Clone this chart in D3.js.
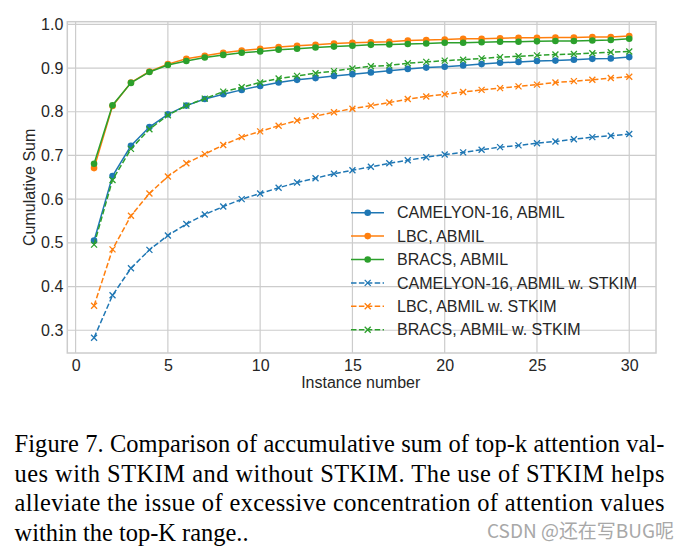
<!DOCTYPE html>
<html>
<head>
<meta charset="utf-8">
<script src="https://cdn.jsdelivr.net/npm/d3@7"></script>
<style>
  html, body { margin: 0; padding: 0; background: #ffffff; }
  svg { display: block; }
</style>
</head>
<body>
<svg id="chart" width="691" height="550"></svg>
<script>
// ---------- data ----------
const instances = [1,2,3,4,5,6,7,8,9,10,11,12,13,14,15,16,17,18,19,20,21,22,23,24,25,26,27,28,29,30];

const camelyonAbmil = [0.505,0.653,0.722,0.765,0.794,0.814,0.829,0.840,0.850,0.859,0.867,0.873,0.877,0.882,0.886,0.890,0.894,0.898,0.901,0.903,0.906,0.909,0.912,0.914,0.916,0.917,0.919,0.921,0.922,0.925];
const lbcAbmil      = [0.671,0.813,0.867,0.892,0.909,0.921,0.928,0.935,0.940,0.944,0.948,0.951,0.953,0.956,0.958,0.959,0.960,0.963,0.964,0.965,0.967,0.967,0.968,0.969,0.969,0.970,0.970,0.971,0.971,0.973];
const bracsAbmil    = [0.681,0.815,0.866,0.891,0.907,0.916,0.924,0.930,0.935,0.938,0.942,0.944,0.947,0.949,0.951,0.953,0.954,0.955,0.956,0.958,0.958,0.959,0.960,0.960,0.961,0.962,0.962,0.963,0.964,0.967];
const camelyonStkim = [0.283,0.380,0.442,0.484,0.517,0.543,0.565,0.583,0.600,0.613,0.626,0.638,0.648,0.658,0.666,0.674,0.682,0.689,0.696,0.702,0.707,0.713,0.719,0.723,0.728,0.732,0.737,0.742,0.745,0.749];
const lbcStkim      = [0.356,0.485,0.562,0.613,0.652,0.682,0.703,0.724,0.742,0.755,0.768,0.780,0.790,0.799,0.807,0.814,0.821,0.829,0.835,0.840,0.845,0.850,0.854,0.858,0.862,0.867,0.870,0.873,0.877,0.880];
const bracsStkim    = [0.496,0.644,0.715,0.760,0.792,0.814,0.830,0.846,0.856,0.867,0.876,0.882,0.888,0.893,0.899,0.904,0.906,0.911,0.914,0.917,0.919,0.922,0.925,0.927,0.929,0.931,0.932,0.934,0.936,0.938];

const seriesNames = ["CAMELYON-16, ABMIL","LBC, ABMIL","BRACS, ABMIL","CAMELYON-16, ABMIL w. STKIM","LBC, ABMIL w. STKIM","BRACS, ABMIL w. STKIM"];
const seriesColors = ["#1f77b4","#ff7f0e","#2ca02c","#1f77b4","#ff7f0e","#2ca02c"];
const seriesDashed = [false,false,false,true,true,true];
const seriesValues = [camelyonAbmil, lbcAbmil, bracsAbmil, camelyonStkim, lbcStkim, bracsStkim];

const xTicks = [0,5,10,15,20,25,30];
const yTicks = [0.3,0.4,0.5,0.6,0.7,0.8,0.9,1.0];
const xLabel = "Instance number";
const yLabel = "Cumulative Sum";

const captionLines = [
  "Figure 7. Comparison of accumulative sum of top-k attention val-",
  "ues with STKIM and without STKIM. The use of STKIM helps",
  "alleviate the issue of excessive concentration of attention values",
  "within the top-K range.."
];
const watermark = "CSDN @还在写BUG呢";

// ---------- layout ----------
const svg = d3.select("#chart");
const plot = {left: 67.3, right: 656, top: 21.7, bottom: 353};
const grey = "#cccccc";
const textColor = "#262626";
const sans = "'Liberation Sans', Arial, sans-serif";

const x = d3.scaleLinear().domain([-0.45, 31.45]).range([plot.left, plot.right]);
const y = d3.scaleLinear().domain([0.248, 1.006]).range([plot.bottom, plot.top]);

// grid
const g = svg.append("g");
g.selectAll("line.vgrid").data(xTicks).join("line")
  .attr("x1", d => x(d)).attr("x2", d => x(d))
  .attr("y1", plot.top).attr("y2", plot.bottom)
  .attr("stroke", grey).attr("stroke-width", 1.2);
g.selectAll("line.hgrid").data(yTicks).join("line")
  .attr("x1", plot.left).attr("x2", plot.right)
  .attr("y1", d => y(d)).attr("y2", d => y(d))
  .attr("stroke", grey).attr("stroke-width", 1.2);

// frame
g.append("rect")
  .attr("x", plot.left).attr("y", plot.top)
  .attr("width", plot.right - plot.left).attr("height", plot.bottom - plot.top)
  .attr("fill", "none").attr("stroke", grey).attr("stroke-width", 1.5);

// axes (labels only, using d3 axes)
const xAxis = d3.axisBottom(x).tickValues(xTicks).tickFormat(d3.format("d")).tickSize(0).tickPadding(7);
const yAxis = d3.axisLeft(y).tickValues(yTicks).tickFormat(d3.format(".1f")).tickSize(0).tickPadding(4);
const gx = svg.append("g").attr("transform", `translate(0,${plot.bottom})`).call(xAxis);
const gy = svg.append("g").attr("transform", `translate(${plot.left},0)`).call(yAxis);
[gx, gy].forEach(a => {
  a.select(".domain").remove();
  a.selectAll("text").attr("font-family", sans).attr("font-size", 16).attr("fill", textColor);
});

svg.append("text").attr("x", x(15.45)).attr("y", 388)
  .attr("text-anchor", "middle").attr("font-family", sans).attr("font-size", 16).attr("fill", textColor)
  .text(xLabel);
svg.append("text").attr("transform", `translate(35,${(plot.top+plot.bottom)/2}) rotate(-90)`)
  .attr("text-anchor", "middle").attr("font-family", sans).attr("font-size", 16).attr("fill", textColor)
  .text(yLabel);

// lines
const line = d3.line().x((d, i) => x(instances[i])).y(d => y(d));
const crossPath = s => `M${-s},${-s}L${s},${s}M${-s},${s}L${s},${-s}`;

seriesValues.forEach((vals, si) => {
  const col = seriesColors[si];
  const sg = svg.append("g");
  sg.append("path").datum(vals).attr("d", line)
    .attr("fill", "none").attr("stroke", col).attr("stroke-width", 1.5)
    .attr("stroke-dasharray", seriesDashed[si] ? "5.5,2.4" : null);
  if (!seriesDashed[si]) {
    sg.selectAll("circle").data(vals).join("circle")
      .attr("cx", (d, i) => x(instances[i])).attr("cy", d => y(d)).attr("r", 3.3)
      .attr("fill", col);
  } else {
    sg.selectAll("path.m").data(vals).join("path").attr("class", "m")
      .attr("transform", (d, i) => `translate(${x(instances[i])},${y(d)})`)
      .attr("d", crossPath(3)).attr("stroke", col).attr("stroke-width", 1.3).attr("fill", "none");
  }
});

// legend
const leg = svg.append("g");
seriesNames.forEach((name, i) => {
  const cy = 212.7 + i * 23.4;
  const col = seriesColors[i];
  leg.append("line").attr("x1", 351).attr("x2", 384).attr("y1", cy).attr("y2", cy)
    .attr("stroke", col).attr("stroke-width", 1.5)
    .attr("stroke-dasharray", seriesDashed[i] ? "5.5,2.4" : null);
  if (!seriesDashed[i]) {
    leg.append("circle").attr("cx", 367.7).attr("cy", cy).attr("r", 3.3).attr("fill", col);
  } else {
    leg.append("path").attr("transform", `translate(367.7,${cy})`).attr("d", crossPath(3))
      .attr("stroke", col).attr("stroke-width", 1.3).attr("fill", "none");
  }
  leg.append("text").attr("x", 397).attr("y", cy).attr("dy", "0.35em")
    .attr("font-family", sans).attr("font-size", 16).attr("fill", textColor).text(name);
});

// caption (condensed serif, justified)
const serif = "'Liberation Serif', 'Times New Roman', serif";
const capBase = [451.5, 481.5, 511, 540.5];
const sx = 0.94;
captionLines.forEach((t, i) => {
  const gg = svg.append("g").attr("transform", `translate(14.5,${capBase[i]}) scale(${sx},1)`);
  const tx = gg.append("text").attr("x", 0).attr("y", 0)
    .attr("font-family", serif).attr("font-size", 26).attr("fill", "#000").text(t);
  if (i < 3) tx.attr("textLength", 650 / sx).attr("lengthAdjust", "spacing");
});
svg.append("text").attr("x", 487).attr("y", 538)
  .attr("font-family", "'Noto Sans CJK SC', 'Liberation Sans', sans-serif").attr("font-size", 19)
  .attr("fill", "#a8a8a8").attr("textLength", 187).attr("lengthAdjust", "spacingAndGlyphs")
  .text(watermark);
</script>
</body>
</html>
